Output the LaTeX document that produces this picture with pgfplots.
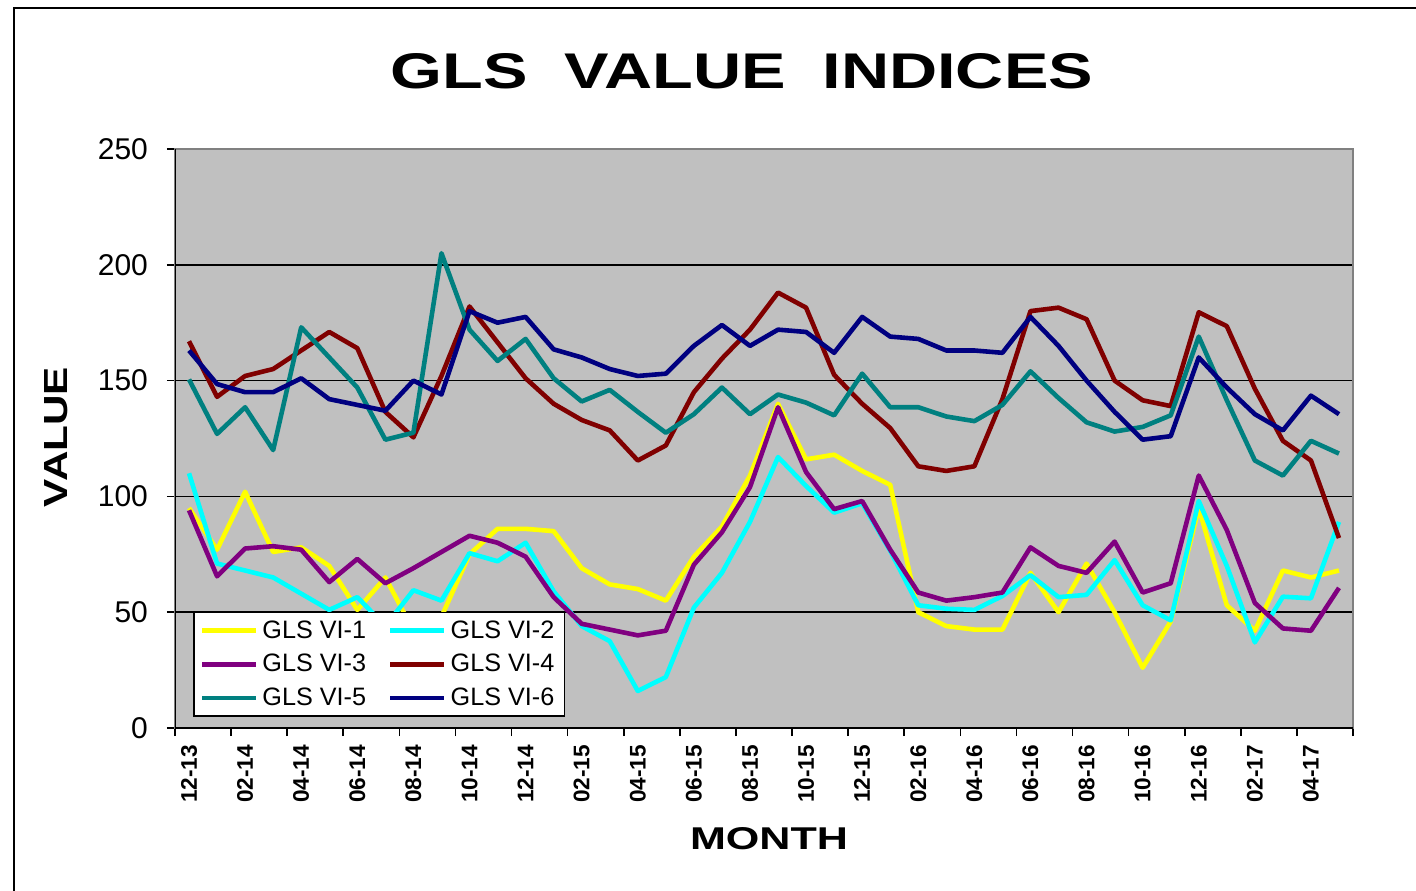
\documentclass[border=0pt]{standalone}
\usepackage{pgfplots}
\pgfplotsset{compat=1.18}
\usepackage{pgfplotstable}
\usepackage{fontspec}
\setmainfont{Liberation Sans}
\usepackage{graphicx}

\definecolor{plotbg}{HTML}{C0C0C0}
\definecolor{cYellow}{HTML}{FFFF00}
\definecolor{cCyan}{HTML}{00FFFF}
\definecolor{cPurple}{HTML}{800080}
\definecolor{cRed}{HTML}{800000}
\definecolor{cTeal}{HTML}{008080}
\definecolor{cNavy}{HTML}{000080}
\definecolor{frameGray}{HTML}{808080}

\pgfplotstableread{
x v1 v2 v3 v4 v5 v6
0 95 110 94 167 150.5 163
1 77 71 65.5 143 127 148.5
2 102 68 77.5 152 138.5 145
3 76 65 78.5 155 120 145
4 78 58 77 163 173 151
5 70 51 63 171 160 142
6 51 56.5 73 164 147 139.5
7 65 44 62.5 136.5 124.5 137
8 42 59.5 69 125.5 127.5 150
9 48 55 76 152 205 144
10 75 75.5 83 182 172 180
11 86 72 80 166.5 158.5 175
12 86 80 74 151 168 177.5
13 85 59 56.5 140 151 163.5
14 69 44 45 133 141 160
15 62 37.5 42.5 128.5 146 155
16 60 16 40 115.5 136.5 152
17 55 22 42 122 127.5 153
18 74 52 70.5 145 135.5 165
19 87 67 84.5 159.5 147 174
20 109 89 104 172 135.5 165
21 140 117 138.5 188 144 172
22 116 104.5 110.5 181.5 140.5 171
23 118 93 94.5 152.5 135 162
24 111 97 98 140 153 177.5
25 105 76.5 77 129.5 138.5 169
26 50 53 58.5 113 138.5 168
27 44 51.5 55 111 134.5 163
28 42.5 51 56.5 113 132.5 163
29 42.5 57 58.5 142 139.5 162
30 67 66 78 180 154 177.5
31 50 56.5 70 181.5 142.5 165
32 71 57.5 67 176.5 132 150
33 50 72.5 80.5 150 128 136.5
34 26 53 58.5 141.5 130 124.5
35 46 46.5 62.5 139 135 126
36 95 98 109 179.5 169 160
37 53 70 85.5 173.5 141.5 147
38 42 37 54 146.5 115.5 135.5
39 68 56.7 43 124 109 128.5
40 65 56 42 115.5 124 143.5
41 68 89 60.5 82 118.5 135.5
}\datatable

\begin{document}
\begin{tikzpicture}[x=1pt,y=1pt]
\useasboundingbox (0,0) rectangle (708,445);
\draw[line width=1pt] (7,-5) -- (7,441) -- (720,441);
\node at (371,409.25) {\resizebox{351pt}{17.5pt}{\bfseries GLS\hspace{0.55em}VALUE\hspace{0.55em}INDICES}};
\node at (384.5,25.5) {\resizebox{79pt}{11pt}{\bfseries MONTH}};
\node at (28.25,226.5) {\rotatebox{90}{\resizebox{70pt}{11.5pt}{\bfseries VALUE}}};
\begin{axis}[
  at={(87.5pt,81pt)}, anchor=south west,
  scale only axis, width=589pt, height=289.5pt,
  xmin=-0.5, xmax=41.5, ymin=0, ymax=250,
  axis background/.style={fill=plotbg},
  axis line style={frameGray, line width=0.6pt},
  ytick={0,50,...,250},
  minor ytick={0,50,...,250},
  ymajorgrids, grid style={black, line width=0.8pt},
  tick align=outside,
  ytick pos=left, xtick pos=bottom,
  major tick length=0pt, minor tick length=4pt,
  tick style={black, line width=0.8pt},
  xtick={0,2,...,40},
  xticklabels={12-13,02-14,04-14,06-14,08-14,10-14,12-14,02-15,04-15,06-15,08-15,10-15,12-15,02-16,04-16,06-16,08-16,10-16,12-16,02-17,04-17},
  minor xtick={-0.5,1.5,...,41.5},
  /pgf/number format/assume math mode=true,
  yticklabel style={font=\fontsize{15}{15}\selectfont, anchor=east, xshift=-10pt},
  xticklabel style={font=\bfseries\fontsize{11.3}{11.3}\selectfont, yshift=-5pt, rotate=90, anchor=east},
  legend columns=2,
  legend cell align=left,
  legend style={at={(rel axis cs:0.0153,0.019)}, anchor=south west, draw=black, line width=0.8pt, fill=white,
    font=\fontsize{12.6}{13}\selectfont, inner xsep=3pt, inner ysep=2pt, row sep=2.5pt,
    /tikz/every even column/.append style={column sep=9pt}},
  legend image code/.code={\draw[#1] (0pt,0pt) -- (27pt,0pt);},
  every axis plot/.append style={line width=2.3pt, line join=round, no markers},
]
\addplot[cYellow] table[x=x,y=v1] {\datatable};
\addplot[cCyan] table[x=x,y=v2] {\datatable};
\addplot[cPurple] table[x=x,y=v3] {\datatable};
\addplot[cRed] table[x=x,y=v4] {\datatable};
\addplot[cTeal] table[x=x,y=v5] {\datatable};
\addplot[cNavy] table[x=x,y=v6] {\datatable};
\legend{GLS VI-1,GLS VI-2,GLS VI-3,GLS VI-4,GLS VI-5,GLS VI-6}
\draw[black, line width=1pt] (rel axis cs:0,1) -- (rel axis cs:0,0) -- (rel axis cs:1,0);
\end{axis}
\end{tikzpicture}
\end{document}
